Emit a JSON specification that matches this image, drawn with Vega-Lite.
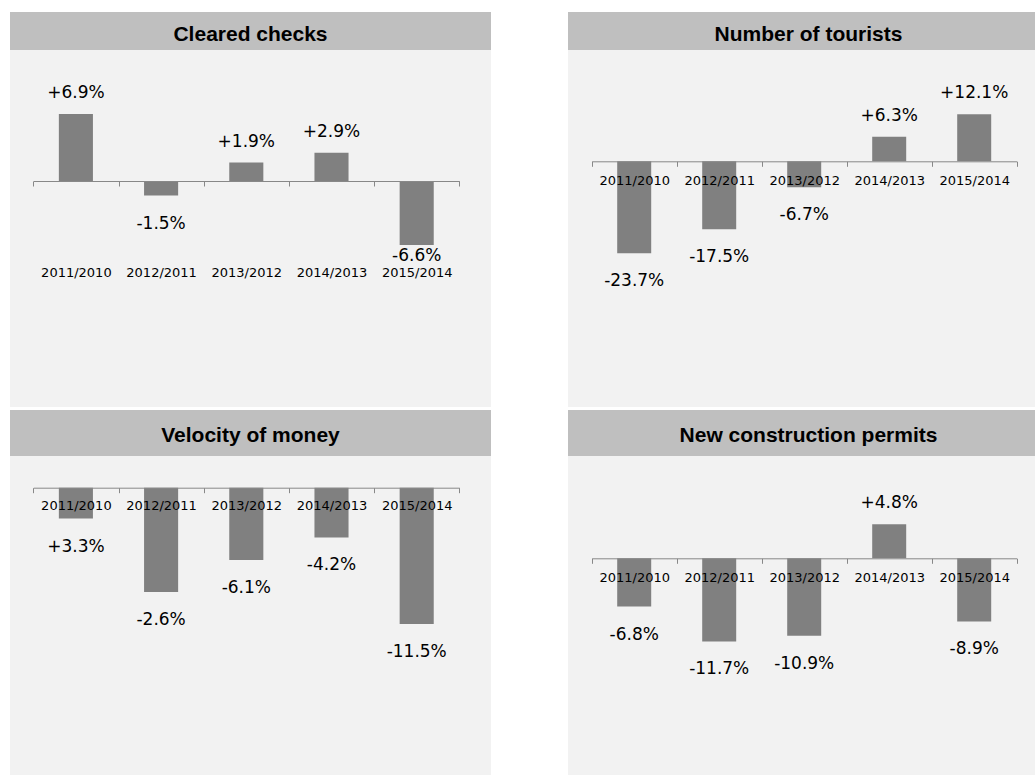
{
  "$schema": "https://vega.github.io/schema/vega-lite/v6.json",
  "background": "white",
  "padding": {"left": 10, "top": 12, "right": 0, "bottom": 0},
  "config": {
    "view": {"stroke": null},
    "text": {"font": "DejaVu Sans", "fontSize": 17, "color": "#000"},
    "axis": {"grid": false}
  },
  "datasets": {
    "cc": [
      {"period": "2011/2010", "value": 6.9, "label": "+6.9%"},
      {"period": "2012/2011", "value": -1.5, "label": "-1.5%"},
      {"period": "2013/2012", "value": 1.9, "label": "+1.9%"},
      {"period": "2014/2013", "value": 2.9, "label": "+2.9%"},
      {"period": "2015/2014", "value": -6.6, "label": "-6.6%"}
    ],
    "nt": [
      {"period": "2011/2010", "value": -23.7, "label": "-23.7%"},
      {"period": "2012/2011", "value": -17.5, "label": "-17.5%"},
      {"period": "2013/2012", "value": -6.7, "label": "-6.7%"},
      {"period": "2014/2013", "value": 6.3, "label": "+6.3%"},
      {"period": "2015/2014", "value": 12.1, "label": "+12.1%"}
    ],
    "vm": [
      {"period": "2011/2010", "value": -2.6, "label": "+3.3%"},
      {"period": "2012/2011", "value": -8.8, "label": "-2.6%"},
      {"period": "2013/2012", "value": -6.1, "label": "-6.1%"},
      {"period": "2014/2013", "value": -4.2, "label": "-4.2%"},
      {"period": "2015/2014", "value": -11.5, "label": "-11.5%"}
    ],
    "ncp": [
      {"period": "2011/2010", "value": -6.8, "label": "-6.8%"},
      {"period": "2012/2011", "value": -11.7, "label": "-11.7%"},
      {"period": "2013/2012", "value": -10.9, "label": "-10.9%"},
      {"period": "2014/2013", "value": 4.8, "label": "+4.8%"},
      {"period": "2015/2014", "value": -8.9, "label": "-8.9%"}
    ]
  },
  "spacing": 3,
  "vconcat": [
    {
      "spacing": 77,
      "hconcat": [
        {
          "spacing": 0,
          "vconcat": [
            {
              "width": 481, "height": 38,
              "view": {"fill": "#bfbfbf", "stroke": null},
              "data": {"values": [{"title": "Cleared checks"}]},
              "mark": {"type": "text", "font": "Liberation Sans", "fontWeight": "bold", "fontSize": 21, "baseline": "alphabetic", "dy": 9.7, "color": "#000"},
              "encoding": {"text": {"field": "title"}}
            },
            {
              "width": 481, "height": 357,
              "view": {"fill": "#f2f2f2", "stroke": null},
              "data": {"name": "cc"},
              "encoding": {
                "x": {
                  "field": "period", "type": "nominal", "sort": null,
                  "scale": {"range": [23.3, 449.3], "paddingInner": 0, "paddingOuter": 0},
                  "axis": {"orient": "bottom", "offset": -226, "title": null, "labelAngle": 0, "tickBand": "extent", "tickSize": 5, "tickColor": "#888", "domainColor": "#888", "labelFont": "DejaVu Sans", "labelFontSize": 13, "labelColor": "#000", "labelPadding": 80, "zindex": 1}
                },
                "y": {"field": "value", "type": "quantitative", "scale": {"domain": [-23.3, 13.505], "nice": false}, "axis": null}
              },
              "layer": [
                {"mark": {"type": "bar", "color": "#808080", "width": {"band": 0.4}}, "encoding": {"y2": {"datum": 0}}},
                {"transform": [{"filter": "datum.value >= 0"}], "mark": {"type": "text", "baseline": "alphabetic", "dy": -16}, "encoding": {"text": {"field": "label"}}},
                {"transform": [{"filter": "datum.value < 0 && datum.value > -5"}], "mark": {"type": "text", "baseline": "alphabetic", "dy": 33}, "encoding": {"text": {"field": "label"}}},
                {"transform": [{"filter": "datum.value <= -5"}], "mark": {"type": "text", "baseline": "alphabetic", "dy": 16}, "encoding": {"text": {"field": "label"}}}
              ]
            }
          ]
        },
        {
          "spacing": 0,
          "vconcat": [
            {
              "width": 467, "height": 38,
              "view": {"fill": "#bfbfbf", "stroke": null},
              "data": {"values": [{"title": "Number of tourists"}]},
              "mark": {"type": "text", "font": "Liberation Sans", "fontWeight": "bold", "fontSize": 21, "baseline": "alphabetic", "dy": 9.7, "dx": 7, "color": "#000"},
              "encoding": {"text": {"field": "title"}}
            },
            {
              "width": 467, "height": 357,
              "view": {"fill": "#f2f2f2", "stroke": null},
              "data": {"name": "nt"},
              "encoding": {
                "x": {
                  "field": "period", "type": "nominal", "sort": null,
                  "scale": {"range": [23.7, 448.7], "paddingInner": 0, "paddingOuter": 0},
                  "axis": {"orient": "bottom", "offset": -245.7, "title": null, "labelAngle": 0, "tickBand": "extent", "tickSize": 5, "tickColor": "#888", "domainColor": "#888", "labelFont": "DejaVu Sans", "labelFontSize": 13, "labelColor": "#000", "labelPadding": 8, "zindex": 1}
                },
                "y": {"field": "value", "type": "quantitative", "scale": {"domain": [-63.32, 28.69], "nice": false}, "axis": null}
              },
              "layer": [
                {"mark": {"type": "bar", "color": "#808080", "width": {"band": 0.4}}, "encoding": {"y2": {"datum": 0}}},
                {"transform": [{"filter": "datum.value >= 0"}], "mark": {"type": "text", "baseline": "alphabetic", "dy": -16}, "encoding": {"text": {"field": "label"}}},
                {"transform": [{"filter": "datum.value < 0"}], "mark": {"type": "text", "baseline": "alphabetic", "dy": 33}, "encoding": {"text": {"field": "label"}}}
              ]
            }
          ]
        }
      ]
    },
    {
      "spacing": 77,
      "hconcat": [
        {
          "spacing": 0,
          "vconcat": [
            {
              "width": 481, "height": 46,
              "view": {"fill": "#bfbfbf", "stroke": null},
              "data": {"values": [{"title": "Velocity of money"}]},
              "mark": {"type": "text", "font": "Liberation Sans", "fontWeight": "bold", "fontSize": 21, "baseline": "alphabetic", "dy": 9.3, "color": "#000"},
              "encoding": {"text": {"field": "title"}}
            },
            {
              "width": 481, "height": 319,
              "view": {"fill": "#f2f2f2", "stroke": null},
              "data": {"name": "vm"},
              "encoding": {
                "x": {
                  "field": "period", "type": "nominal", "sort": null,
                  "scale": {"range": [23.3, 449.3], "paddingInner": 0, "paddingOuter": 0},
                  "axis": {"orient": "bottom", "offset": -287.3, "title": null, "labelAngle": 0, "tickBand": "extent", "tickSize": 5, "tickColor": "#888", "domainColor": "#888", "labelFont": "DejaVu Sans", "labelFontSize": 13, "labelColor": "#000", "labelPadding": 7, "zindex": 1}
                },
                "y": {"field": "value", "type": "quantitative", "scale": {"domain": [-24.245, 2.675], "nice": false}, "axis": null}
              },
              "layer": [
                {"mark": {"type": "bar", "color": "#808080", "width": {"band": 0.4}}, "encoding": {"y2": {"datum": 0}}},
                {"transform": [{"filter": "datum.value >= 0"}], "mark": {"type": "text", "baseline": "alphabetic", "dy": -16}, "encoding": {"text": {"field": "label"}}},
                {"transform": [{"filter": "datum.value < 0"}], "mark": {"type": "text", "baseline": "alphabetic", "dy": 33}, "encoding": {"text": {"field": "label"}}}
              ]
            }
          ]
        },
        {
          "spacing": 0,
          "vconcat": [
            {
              "width": 467, "height": 46,
              "view": {"fill": "#bfbfbf", "stroke": null},
              "data": {"values": [{"title": "New construction permits"}]},
              "mark": {"type": "text", "font": "Liberation Sans", "fontWeight": "bold", "fontSize": 21, "baseline": "alphabetic", "dy": 9.3, "dx": 7, "color": "#000"},
              "encoding": {"text": {"field": "title"}}
            },
            {
              "width": 467, "height": 319,
              "view": {"fill": "#f2f2f2", "stroke": null},
              "data": {"name": "ncp"},
              "encoding": {
                "x": {
                  "field": "period", "type": "nominal", "sort": null,
                  "scale": {"range": [23.7, 448.7], "paddingInner": 0, "paddingOuter": 0},
                  "axis": {"orient": "bottom", "offset": -216.7, "title": null, "labelAngle": 0, "tickBand": "extent", "tickSize": 5, "tickColor": "#888", "domainColor": "#888", "labelFont": "DejaVu Sans", "labelFontSize": 13, "labelColor": "#000", "labelPadding": 8, "zindex": 1}
                },
                "y": {"field": "value", "type": "quantitative", "scale": {"domain": [-30.52, 14.41], "nice": false}, "axis": null}
              },
              "layer": [
                {"mark": {"type": "bar", "color": "#808080", "width": {"band": 0.4}}, "encoding": {"y2": {"datum": 0}}},
                {"transform": [{"filter": "datum.value >= 0"}], "mark": {"type": "text", "baseline": "alphabetic", "dy": -16}, "encoding": {"text": {"field": "label"}}},
                {"transform": [{"filter": "datum.value < 0"}], "mark": {"type": "text", "baseline": "alphabetic", "dy": 33}, "encoding": {"text": {"field": "label"}}}
              ]
            }
          ]
        }
      ]
    }
  ]
}
